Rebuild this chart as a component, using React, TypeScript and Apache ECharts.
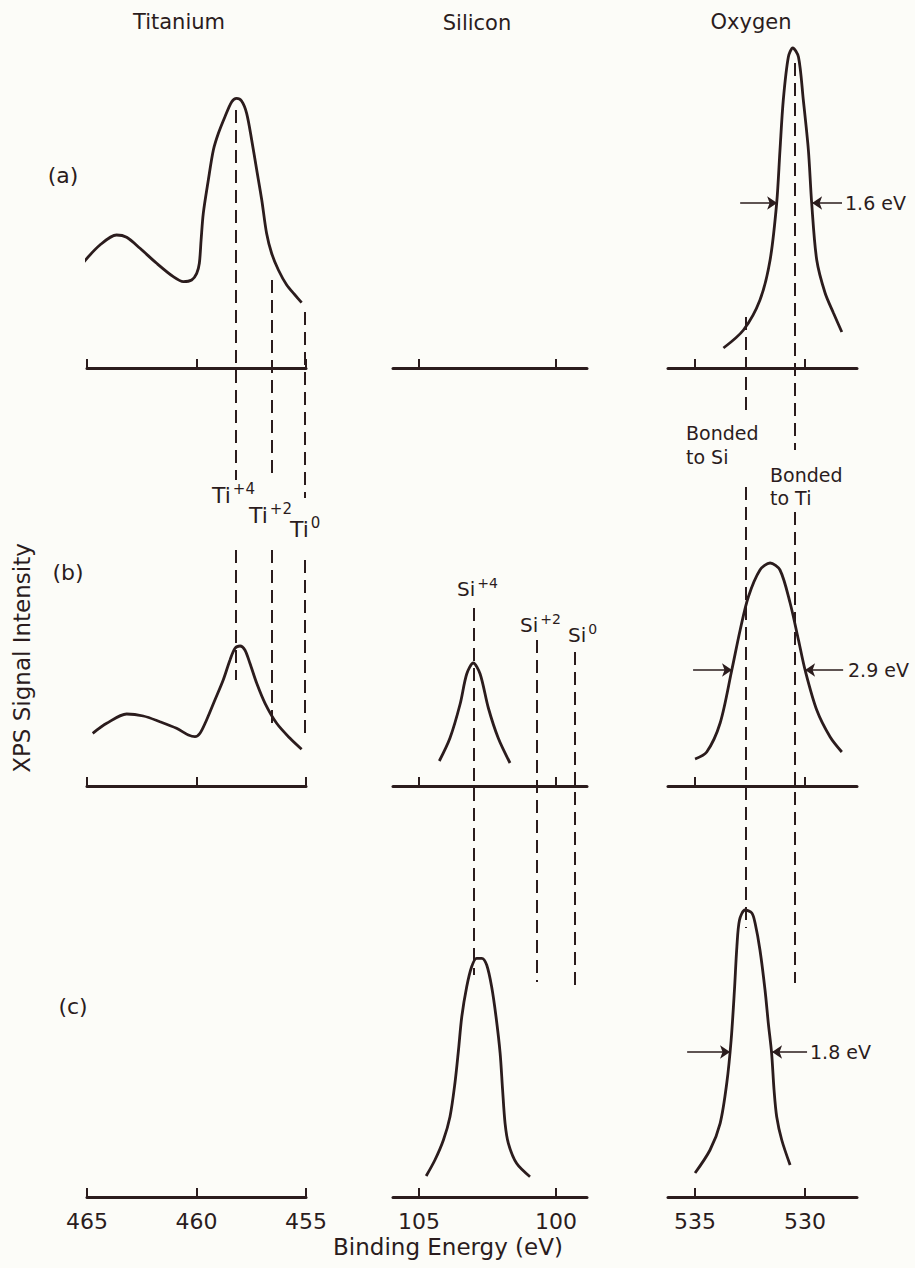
import React, { useEffect, useRef } from 'react';
import * as echarts from 'echarts';

const INK = '#2b1c1d';
const FONT = 'DejaVu Sans';

// ---- texts ----
const columnTitles = ['Titanium', 'Silicon', 'Oxygen'];
const rowLabels = ['(a)', '(b)', '(c)'];
const yAxisTitle = 'XPS Signal Intensity';
const xAxisTitle = 'Binding Energy (eV)';

// ---- tick labels (binding energy, eV) ----
const titaniumTicks = [465, 460, 455];
const siliconTicks = [105, 100];
const oxygenTicks = [535, 530];

// ---- spectra: [binding energy (eV), signal (arb. units)] ----
const titaniumA: [number, number][] = [
  [465.2, 104.7], [464.41, 123], [463.65, 133], [463.19, 130.7], [462.58, 119.7], [461.82, 104.7],
  [461.06, 91.3], [460.6, 86.3], [460.22, 88], [459.99, 94.7], [459.87, 104.7], [459.79, 128],
  [459.69, 154.7], [459.46, 188], [459.23, 218], [459.0, 234.7], [458.7, 251.3], [458.39, 266.3],
  [458.17, 269.7], [457.94, 267], [457.71, 254.7], [457.48, 228], [457.25, 198], [457.02, 168],
  [456.8, 134.7], [456.57, 114.7], [456.26, 98], [455.88, 83], [455.5, 73], [455.2, 65.3],
];
const titaniumB: [number, number][] = [
  [464.74, 52.7], [464.1, 62.7], [463.19, 72], [462.43, 70], [461.67, 64.3], [460.91, 57.7],
  [460.37, 51], [460.07, 49.3], [459.84, 52.7], [459.54, 66], [459.16, 86], [458.78, 106],
  [458.47, 126], [458.24, 137.7], [458.01, 140], [457.79, 136], [457.56, 122.7], [457.25, 102.7],
  [456.87, 82.7], [456.34, 62.7], [455.73, 47.7], [455.2, 36.7],
];
const siliconB: [number, number][] = [
  [104.26, 25], [103.87, 48], [103.5, 82], [103.26, 112], [103.02, 123], [102.77, 112],
  [102.47, 78], [102.11, 48], [101.68, 23],
];
const siliconC: [number, number][] = [
  [104.74, 21], [104.42, 37], [104.11, 57], [103.87, 80.3], [103.69, 113.7], [103.56, 147],
  [103.44, 180.3], [103.26, 210.3], [103.08, 230.3], [102.9, 238.7], [102.71, 238.7], [102.53, 232],
  [102.35, 210.3], [102.19, 180.3], [102.04, 143.7], [101.95, 107], [101.86, 73.7], [101.74, 53.7],
  [101.44, 33.7], [100.95, 20.3],
];
const oxygenA: [number, number][] = [
  [533.71, 20], [532.8, 38], [532.05, 68], [531.59, 108], [531.29, 165], [531.14, 218],
  [530.99, 268], [530.76, 311], [530.56, 320], [530.3, 311], [530.08, 268], [529.85, 218],
  [529.7, 165], [529.47, 108], [529.09, 75], [528.71, 55], [528.33, 36],
];
const oxygenB: [number, number][] = [
  [535.0, 27], [534.47, 34], [533.86, 63], [533.33, 116], [532.95, 156], [532.58, 189],
  [532.05, 216], [531.59, 223], [531.14, 216], [530.68, 183], [530.3, 146], [530.0, 116],
  [529.47, 76], [528.86, 49], [528.33, 34],
];
const oxygenC: [number, number][] = [
  [535.0, 24], [534.32, 47], [533.86, 73.7], [533.56, 113.7], [533.36, 157], [533.21, 207],
  [533.1, 250], [532.98, 277], [532.73, 287], [532.42, 284], [532.27, 273.7], [532.05, 247],
  [531.82, 207], [531.67, 173.7], [531.52, 143.7], [531.41, 107], [531.29, 80.3], [531.06, 57],
  [530.68, 32],
];

// ---- reference energies (dashed guides) ----
const titaniumStates = [458.2, 456.55, 455.05];
const titaniumStateLabels = [['Ti', '+4'], ['Ti', '+2'], ['Ti', '0']];
const siliconStates = [103.0, 100.7, 99.3];
const siliconStateLabels = [['Si', '+4'], ['Si', '+2'], ['Si', '0']];
const oxygenBonds = [532.7, 530.45];
const oxygenBondLabels = ['Bonded\nto Si', 'Bonded\nto Ti'];

// ---- oxygen FWHM markers: level, [tail, tip] of each arrow ----
const oxygenFwhmLevel = [165, 116, 145];
const oxygenFwhmLeft = [[532.95, 531.27], [535.09, 533.32], [535.36, 533.41]];
const oxygenFwhmRight = [[528.32, 529.68], [528.27, 530.0], [529.91, 531.5]];
const oxygenFwhmLabels = ['1.6 eV', '2.9 eV', '1.8 eV'];

export default function App() {
  const ref = useRef<HTMLDivElement>(null);

  useEffect(() => {
    document.body.style.margin = '0';
    const chart = echarts.init(ref.current!, null, { renderer: 'svg' });

    const H = 1268;
    const cols = [
      { left: 87, width: 219, min: 455, max: 465, ticks: titaniumTicks },
      { left: 393, width: 194, min: 98.87, max: 105.95, ticks: siliconTicks },
      { left: 668, width: 189, min: 527.64, max: 536.23, ticks: oxygenTicks },
    ];
    const rowAxisY = [368, 786, 1197];
    const rowH = 330;

    const grid: any[] = [];
    const xAxis: any[] = [];
    const yAxis: any[] = [];
    for (let r = 0; r < 3; r++) {
      for (let c = 0; c < 3; c++) {
        const col = cols[c];
        const gi = r * 3 + c;
        grid.push({ left: col.left, width: col.width, top: rowAxisY[r] - rowH, height: rowH });
        xAxis.push({
          gridIndex: gi, type: 'value', min: col.min, max: col.max, inverse: true,
          axisLine: { show: true, onZero: false, lineStyle: { color: INK, width: 3 } },
          axisTick: { show: true, inside: true, length: 9, customValues: col.ticks, lineStyle: { color: INK, width: 2 } },
          axisLabel: { show: r === 2, customValues: col.ticks, color: INK, fontFamily: FONT, fontSize: 22, margin: 13 },
          splitLine: { show: false },
        });
        yAxis.push({ gridIndex: gi, type: 'value', min: 0, max: rowH, show: false });
      }
    }
    // overlay grids (one per column) for the dashed guides, in page units vertically
    for (let c = 0; c < 3; c++) {
      const col = cols[c];
      const gi = 9 + c;
      grid.push({ left: col.left, width: col.width, top: 0, height: H });
      xAxis.push({ gridIndex: gi, type: 'value', min: col.min, max: col.max, inverse: true, show: false });
      yAxis.push({ gridIndex: gi, type: 'value', min: 0, max: H, inverse: true, show: false });
    }

    const spectra = [
      { row: 0, col: 0, data: titaniumA },
      { row: 1, col: 0, data: titaniumB },
      { row: 1, col: 1, data: siliconB },
      { row: 2, col: 1, data: siliconC },
      { row: 0, col: 2, data: oxygenA },
      { row: 1, col: 2, data: oxygenB },
      { row: 2, col: 2, data: oxygenC },
    ];

    const series: any[] = [];
    spectra.forEach((s) => {
      const gi = s.row * 3 + s.col;
      series.push({
        type: 'line', xAxisIndex: gi, yAxisIndex: gi, data: s.data,
        showSymbol: false, symbol: 'none', smooth: 0.3, clip: false, silent: true,
        lineStyle: { color: INK, width: 2.8 }, z: 3,
      });
    });

    // FWHM arrows
    for (let r = 0; r < 3; r++) {
      const gi = r * 3 + 2;
      const lvl = oxygenFwhmLevel[r];
      series.push({
        type: 'lines', coordinateSystem: 'cartesian2d', xAxisIndex: gi, yAxisIndex: gi,
        symbol: ['none', 'arrow'], symbolSize: 10, silent: true, z: 4,
        lineStyle: { color: INK, width: 1.6, opacity: 1, curveness: 0 },
        data: [
          { coords: [[oxygenFwhmLeft[r][0], lvl], [oxygenFwhmLeft[r][1], lvl]] },
          { coords: [[oxygenFwhmRight[r][0], lvl], [oxygenFwhmRight[r][1], lvl]] },
        ],
      });
    }

    // dashed guides (vertical spans are layout, in page pixels)
    const guideSpans = [
      [[[110, 480], [550, 680]], [[280, 480], [550, 723]], [[312, 498], [560, 737]]],
      [[[608, 975]], [[640, 982]], [[652, 988]]],
      [[[317, 417], [487, 928]], [[63, 450], [512, 983]]],
    ];
    const guideEnergies = [titaniumStates, siliconStates, oxygenBonds];
    for (let c = 0; c < 3; c++) {
      const data: any[] = [];
      guideEnergies[c].forEach((e, i) => {
        guideSpans[c][i].forEach(([y1, y2]) => data.push({ coords: [[e, y1], [e, y2]] }));
      });
      series.push({
        type: 'lines', coordinateSystem: 'cartesian2d', xAxisIndex: 9 + c, yAxisIndex: 9 + c,
        symbol: 'none', silent: true, z: 2,
        lineStyle: { color: INK, width: 2, type: [13, 7], opacity: 1, curveness: 0 },
        data,
      });
    }

    const txt = (x: number, y: number, text: string, size: number, align = 'center', extra: any = {}) => ({
      type: 'text', x, y, silent: true, z: 10,
      ...extra,
      style: {
        text, font: `${size}px ${FONT}`, fontSize: size, fontFamily: FONT, fill: INK,
        align, verticalAlign: 'middle', textAlign: align, textVerticalAlign: 'middle',
        ...(extra.style || {}),
      },
    });
    const sup = (x: number, y: number, base: string, exp: string, size: number, supSize: number) => ({
      type: 'text', x, y, silent: true, z: 10,
      style: {
        text: `{m|${base}}{s|${exp}}`,
        align: 'left', verticalAlign: 'middle', textAlign: 'left', textVerticalAlign: 'middle',
        rich: {
          m: { fontSize: size, fontFamily: FONT, fill: INK, lineHeight: size + 6 },
          s: { fontSize: supSize, fontFamily: FONT, fill: INK, lineHeight: size - 4, verticalAlign: 'top', padding: [0, 0, 0, 2] },
        },
      },
    });

    const titlePos = [[179, 22], [477, 23], [751, 22]];
    const rowLabelPos = [[63, 175], [68, 572], [73, 1006]];
    const tiLabelPos = [[212, 495], [249, 515], [290, 529]];
    const siLabelPos = [[457, 589], [520, 625], [568, 635]];
    const bondLabelPos = [[686, 445, 24], [770, 486, 23]];
    const fwhmLabelPos = [[845, 203], [848, 670], [810, 1052]];

    const graphic: any[] = [];
    columnTitles.forEach((t, i) => graphic.push(txt(titlePos[i][0], titlePos[i][1], t, 21)));
    rowLabels.forEach((t, i) => graphic.push(txt(rowLabelPos[i][0], rowLabelPos[i][1], t, 22)));
    titaniumStateLabels.forEach((l, i) => graphic.push(sup(tiLabelPos[i][0], tiLabelPos[i][1], l[0], l[1], 22, 15)));
    siliconStateLabels.forEach((l, i) => graphic.push(sup(siLabelPos[i][0], siLabelPos[i][1], l[0], l[1], 20, 14)));
    oxygenBondLabels.forEach((t, i) =>
      graphic.push(txt(bondLabelPos[i][0], bondLabelPos[i][1], t, 19, 'left', { style: { lineHeight: bondLabelPos[i][2] } })));
    oxygenFwhmLabels.forEach((t, i) => graphic.push(txt(fwhmLabelPos[i][0], fwhmLabelPos[i][1], t, 19, 'left')));
    graphic.push(txt(22, 658, yAxisTitle, 23, 'center', { rotation: Math.PI / 2 }));
    graphic.push(txt(448, 1247, xAxisTitle, 23));

    chart.setOption({
      animation: false,
      backgroundColor: '#fcfcf8',
      grid, xAxis, yAxis, series, graphic,
    });

    return () => chart.dispose();
  }, []);

  return <div ref={ref} style={{ position: 'absolute', left: 0, top: 0, width: 915, height: 1268 }} />;
}
